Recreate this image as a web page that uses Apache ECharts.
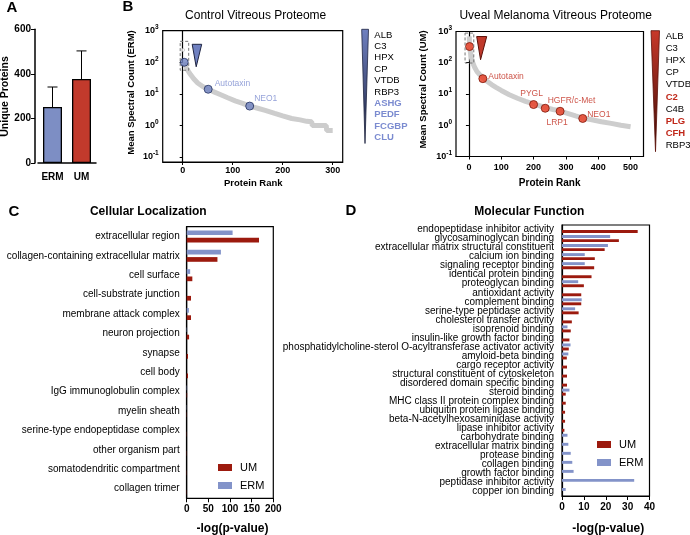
<!DOCTYPE html>
<html><head><meta charset="utf-8">
<script src="https://cdn.jsdelivr.net/npm/echarts@6/dist/echarts.min.js"></script>
<style>html,body{margin:0;padding:0;background:#fff}#c{width:690px;height:535px}</style>
</head><body><div id="c"></div>
<script>
// ---------- DATA ----------
const groupsA = ['ERM', 'UM'];
const meanA = [251, 377];
const errA = [90, 126];

const rankTicksCtrl = [0, 100, 200, 300];
const rankTicksUM = [0, 100, 200, 300, 400, 500];
const countTicks = [0.1, 1, 10, 100, 1000];

const ctrlCurve = [[3,100],[5,78],[8,63],[12,50],[16,40],[22,30],[30,22],[40,17],[51,14],[60,12],[75,9.5],[90,7.5],[105,6],[120,5],[134,4.1],[150,3.5],[165,3],[184,2.4],[200,2],[218,1.66],[235,1.5],[248,1.35],[258,1.3],[259,1.0],[287,1.0],[288,0.69],[300,0.69]];
const ctrlTop = [[1,245]];
const ctrlHiRank = [3, 51, 134];
const ctrlHiCount = [100, 14, 4.1];
const ctrlHiLabel = ['', 'Autotaxin', 'NEO1'];

const umCurve = [[1,700],[2,330],[5,200],[8,140],[12,100],[18,70],[25,52],[33,42],[43,34],[55,26],[70,20],[85,16],[100,13],[125,9.5],[150,7.3],[175,5.8],[200,4.8],[236,3.7],[260,3.2],[282,2.9],[300,2.5],[330,2.0],[352,1.7],[380,1.5],[410,1.3],[440,1.15],[470,1.0],[500,0.9]];
const umHiRank = [2, 43, 200, 236, 282, 352];
const umHiCount = [330, 31, 4.6, 3.5, 2.8, 1.65];
const umHiLabel = ['', 'Autotaxin', 'PYGL', 'HGFR/c-Met', 'LRP1', 'NEO1'];

const ctrlGenes = ['ALB','C3','HPX','CP','VTDB','RBP3','ASHG','PEDF','FCGBP','CLU'];
const ctrlGenesHi = ['ASHG','PEDF','FCGBP','CLU'];
const umGenes = ['ALB','C3','HPX','CP','VTDB','C2','C4B','PLG','CFH','RBP3'];
const umGenesHi = ['C2','PLG','CFH'];

const ccCategories = ['extracellular region','collagen-containing extracellular matrix','cell surface','cell-substrate junction','membrane attack complex','neuron projection','synapse','cell body','IgG immunoglobulin complex','myelin sheath','serine-type endopeptidase complex','other organism part','somatodendritic compartment','collagen trimer'];
const ccERM = [106, 79, 8, 0, 5, 1, 0, 0, 1, 0.5, 0, 0, 0, 0];
const ccUM  = [167, 71, 13, 10, 10, 5.5, 3, 3, 1, 0.5, 0.5, 0.5, 0.5, 0.5];

const mfCategories = ['endopeptidase inhibitor activity','glycosaminoglycan binding','extracellular matrix structural constituent','calcium ion binding','signaling receptor binding','identical protein binding','proteoglycan binding','antioxidant activity','complement binding','serine-type peptidase activity','cholesterol transfer activity','isoprenoid binding','insulin-like growth factor binding','phosphatidylcholine-sterol O-acyltransferase activator activity','amyloid-beta binding','cargo receptor activity','structural constituent of cytoskeleton','disordered domain specific binding','steroid binding','MHC class II protein complex binding','ubiquitin protein ligase binding','beta-N-acetylhexosaminidase activity','lipase inhibitor activity','carbohydrate binding','extracellular matrix binding','protease binding','collagen binding','growth factor binding','peptidase inhibitor activity','copper ion binding'];
const mfERM = [0, 22, 21, 10.4, 10.4, 0, 7.4, 0, 9, 6, 0, 2.5, 0, 3.9, 2.9, 0, 0, 0, 3.4, 0, 0, 0, 0, 2.5, 2.9, 4, 4.7, 5.3, 33, 1.7];
const mfUM  = [34.6, 26, 19.5, 15, 14.7, 13.5, 10, 8.8, 8.8, 7.6, 4.5, 4, 3.4, 3.1, 2.2, 2.3, 2.3, 2.3, 1.7, 1.7, 1.4, 1.4, 1.1, 0, 0, 0, 0, 0, 0, 0];

// ---------- STYLE ----------
const FONT = '"Liberation Sans", Arial, Helvetica, sans-serif';
const ERM_A = '#7d8ec4', UM_A = '#c23a2c';
const ERM_C = '#8393c9', UM_C = '#9c1a0e';
const BLUE_T = '#7b8bd0', RED_T = '#c0281a';
const BLACK = '#000';

const chart = echarts.init(document.getElementById('c'), null, {renderer: 'canvas'});

function supLabel(v) {
  const e = Math.round(Math.log10(v));
  return '{b|10}{s|' + e + '}';
}
const supRich = {
  b: {fontSize: 9, fontWeight: 'bold', color: BLACK, fontFamily: FONT},
  s: {fontSize: 6.5, fontWeight: 'bold', color: BLACK, fontFamily: FONT, padding: [0, 0, 7, 0]}
};

function hiData(ranks, counts, labels, cfg) {
  return ranks.map((r, i) => {
    const d = {value: [r, counts[i]]};
    if (labels[i]) d.label = Object.assign({show: true, formatter: labels[i]}, cfg[labels[i]]);
    return d;
  });
}

const ctrlLabelCfg = {
  'Autotaxin': {position: 'right', distance: 2, offset: [0, -6]},
  'NEO1': {position: 'right', distance: 0, offset: [0, -7]}
};
const umLabelCfg = {
  'Autotaxin': {position: 'right', distance: 1, offset: [0, -2]},
  'PYGL': {position: 'top', distance: 2, offset: [-2, 0]},
  'HGFR/c-Met': {position: 'right', distance: 0, offset: [-2, -8]},
  'LRP1': {position: 'bottom', distance: 2, offset: [-3, 0]},
  'NEO1': {position: 'right', distance: 0, offset: [0, -4]}
};

const valAxisLine = {show: true, lineStyle: {color: BLACK, width: 1.2}};
const valTick = {show: true, length: 4, lineStyle: {color: BLACK, width: 1}};

const option = {
  animation: false,
  textStyle: {fontFamily: FONT},
  grid: [
    {left: 38, top: 29.3, width: 58, height: 133.7},
    {left: 162.7, top: 30.7, width: 180, height: 131.3, show: true, borderColor: BLACK, borderWidth: 1.2},
    {left: 456, top: 31.5, width: 187.5, height: 125, show: true, borderColor: BLACK, borderWidth: 1.2},
    {left: 186.7, top: 226.7, width: 86.6, height: 271.6, show: true, borderColor: BLACK, borderWidth: 1.2},
    {left: 562, top: 225, width: 87.5, height: 271, show: true, borderColor: BLACK, borderWidth: 1.2}
  ],
  xAxis: [
    {gridIndex: 0, type: 'category', data: groupsA, axisLine: {lineStyle: {color: BLACK, width: 1.5}}, axisTick: {show: false},
     axisLabel: {color: BLACK, fontWeight: 'bold', fontSize: 10, margin: 9}},
    {gridIndex: 1, type: 'value', min: -40, max: 320, splitLine: {show: false}, axisLine: valAxisLine,
     axisTick: {show: true, length: 3, customValues: rankTicksCtrl, lineStyle: {color: BLACK}},
     axisLabel: {customValues: rankTicksCtrl, color: BLACK, fontWeight: 'bold', fontSize: 9, margin: 4}},
    {gridIndex: 2, type: 'value', min: -40, max: 540, splitLine: {show: false}, axisLine: valAxisLine,
     axisTick: {show: true, length: 3, customValues: rankTicksUM, lineStyle: {color: BLACK}},
     axisLabel: {customValues: rankTicksUM, color: BLACK, fontWeight: 'bold', fontSize: 9, margin: 7}},
    {gridIndex: 3, type: 'value', min: 0, max: 200, interval: 50, splitLine: {show: false}, axisLine: valAxisLine, axisTick: valTick,
     axisLabel: {color: BLACK, fontWeight: 'bold', fontSize: 10, margin: 6}},
    {gridIndex: 4, type: 'value', min: 0, max: 40, interval: 10, splitLine: {show: false}, axisLine: valAxisLine, axisTick: valTick,
     axisLabel: {color: BLACK, fontWeight: 'bold', fontSize: 10, margin: 6}}
  ],
  yAxis: [
    {gridIndex: 0, type: 'value', min: 0, max: 600, interval: 200, offset: 3, splitLine: {show: false},
     axisLine: {show: true, lineStyle: {color: BLACK, width: 1.5}}, axisTick: {show: true, length: 4, lineStyle: {color: BLACK}},
     axisLabel: {color: BLACK, fontWeight: 'bold', fontSize: 10, margin: 4}},
    {gridIndex: 1, type: 'log', logBase: 10, min: 0.0695, max: 1000, splitLine: {show: false}, axisLine: valAxisLine,
     axisTick: {show: true, length: 3, customValues: countTicks, lineStyle: {color: BLACK}},
     axisLabel: {customValues: countTicks, formatter: supLabel, rich: supRich, margin: 4}},
    {gridIndex: 2, type: 'log', logBase: 10, min: 0.1, max: 1000, splitLine: {show: false}, axisLine: valAxisLine,
     axisTick: {show: true, length: 3, customValues: countTicks, lineStyle: {color: BLACK}},
     axisLabel: {customValues: countTicks, formatter: supLabel, rich: supRich, margin: 4}},
    {gridIndex: 3, type: 'category', inverse: true, data: ccCategories, axisLine: {lineStyle: {color: BLACK, width: 1.2}},
     axisTick: {alignWithLabel: true, length: 4, lineStyle: {color: BLACK}},
     axisLabel: {color: BLACK, fontSize: 10, margin: 7, interval: 0}},
    {gridIndex: 4, type: 'category', inverse: true, data: mfCategories, axisLine: {lineStyle: {color: BLACK, width: 1.2}},
     axisTick: {alignWithLabel: true, length: 4, lineStyle: {color: BLACK}},
     axisLabel: {color: BLACK, fontSize: 10, margin: 8, interval: 0}}
  ],
  legend: [
    {left: 218, top: 462, padding: 0, orient: 'vertical', data: ['UM', 'ERM'], icon: 'rect', itemWidth: 14, itemHeight: 7, itemGap: 7,
     selectedMode: false, textStyle: {fontSize: 11, color: BLACK, padding: [0, 0, 0, 3]}},
    {left: 597, top: 439, padding: 0, orient: 'vertical', data: ['UM', 'ERM'], icon: 'rect', itemWidth: 14, itemHeight: 7, itemGap: 7,
     selectedMode: false, textStyle: {fontSize: 11, color: BLACK, padding: [0, 0, 0, 3]}}
  ],
  series: [
    // A
    {name: 'A-err', type: 'custom', xAxisIndex: 0, yAxisIndex: 0, z: 1,
     data: groupsA.map((g, i) => [i, meanA[i], meanA[i] + errA[i]]),
     renderItem: function (params, api) {
       const p0 = api.coord([api.value(0), api.value(1)]);
       const p1 = api.coord([api.value(0), api.value(2)]);
       return {type: 'group', children: [
         {type: 'line', shape: {x1: p0[0], y1: p0[1], x2: p1[0], y2: p1[1]}, style: {stroke: BLACK, lineWidth: 1}},
         {type: 'line', shape: {x1: p1[0] - 5, y1: p1[1], x2: p1[0] + 5, y2: p1[1]}, style: {stroke: BLACK, lineWidth: 1}}
       ]};
     }},
    {name: 'A-bars', type: 'bar', xAxisIndex: 0, yAxisIndex: 0, barWidth: 19, z: 3,
     itemStyle: {borderColor: BLACK, borderWidth: 1.3},
     data: meanA.map((v, i) => ({value: v, itemStyle: {color: i === 0 ? ERM_A : UM_A}}))},
    // B left
    {name: 'ctrl-curve', type: 'line', xAxisIndex: 1, yAxisIndex: 1, data: ctrlCurve, symbol: 'none', z: 2,
     lineStyle: {color: '#cdcdcd', width: 5}},
    {name: 'ctrl-top', type: 'scatter', xAxisIndex: 1, yAxisIndex: 1, data: ctrlTop, symbolSize: 3, z: 3,
     itemStyle: {color: '#fff', borderColor: '#bbb', borderWidth: 0.8}},
    {name: 'ctrl-hi', type: 'scatter', xAxisIndex: 1, yAxisIndex: 1, symbolSize: 8, z: 4,
     itemStyle: {color: '#7083c2', borderColor: '#1f2d5c', borderWidth: 1},
     label: {color: BLUE_T, fontSize: 8.5, fontFamily: FONT},
     data: hiData(ctrlHiRank, ctrlHiCount, ctrlHiLabel, ctrlLabelCfg)},
    // B right
    {name: 'um-curve', type: 'line', xAxisIndex: 2, yAxisIndex: 2, data: umCurve, symbol: 'none', z: 2,
     lineStyle: {color: '#cdcdcd', width: 5}},
    {name: 'um-hi', type: 'scatter', xAxisIndex: 2, yAxisIndex: 2, symbolSize: 8, z: 4,
     itemStyle: {color: '#ea3a1f', borderColor: '#7a1508', borderWidth: 1},
     label: {color: RED_T, fontSize: 8.5, fontFamily: FONT},
     data: hiData(umHiRank, umHiCount, umHiLabel, umLabelCfg)},
    // C
    {name: 'ERM', type: 'bar', xAxisIndex: 3, yAxisIndex: 3, data: ccERM, barWidth: 4.7, barGap: '55%', itemStyle: {color: ERM_C}},
    {name: 'UM', type: 'bar', xAxisIndex: 3, yAxisIndex: 3, data: ccUM, barWidth: 4.7, barGap: '55%', itemStyle: {color: UM_C}},
    // D
    {name: 'ERM', type: 'bar', xAxisIndex: 4, yAxisIndex: 4, data: mfERM, barWidth: 2.9, barGap: '40%', itemStyle: {color: ERM_C}},
    {name: 'UM', type: 'bar', xAxisIndex: 4, yAxisIndex: 4, data: mfUM, barWidth: 2.9, barGap: '40%', itemStyle: {color: UM_C}}
  ]
};
chart.setOption(option);

// ---------- ANNOTATIONS ----------
function txt(x, y, text, font, opts) {
  return Object.assign({type: 'text', x: x, y: y, silent: true,
    style: Object.assign({text: text, font: font, fill: BLACK, align: 'center', verticalAlign: 'middle'}, (opts && opts.style) || {})},
    opts && opts.rotation !== undefined ? {rotation: opts.rotation} : {});
}
const g = [];
const bold = (s) => 'bold ' + s + 'px ' + FONT;
const reg = (s) => s + 'px ' + FONT;
// panel letters
g.push(txt(12, 8, 'A', bold(15)));
g.push(txt(128, 7, 'B', bold(15)));
g.push(txt(14, 211.5, 'C', bold(15)));
g.push(txt(351, 211, 'D', bold(15)));
// titles
g.push(txt(255.7, 16, 'Control Vitreous Proteome', reg(12)));
g.push(txt(555.7, 16, 'Uveal Melanoma Vitreous Proteome', reg(12)));
g.push(txt(148.3, 211.7, 'Cellular Localization', bold(12)));
g.push(txt(529.3, 211.7, 'Molecular Function', bold(12)));
// axis names
g.push(txt(5.5, 96.5, 'Unique Proteins', bold(10.5), {rotation: Math.PI / 2}));
g.push(txt(131.7, 92.5, 'Mean Spectral Count (ERM)', bold(9.5), {rotation: Math.PI / 2}));
g.push(txt(423.3, 89.5, 'Mean Spectral Count (UM)', bold(9.5), {rotation: Math.PI / 2}));
g.push(txt(253.3, 183.3, 'Protein Rank', bold(9.5)));
g.push(txt(549.7, 183.3, 'Protein Rank', bold(10)));
g.push(txt(232.5, 528.3, '-log(p-value)', bold(12)));
g.push(txt(608.2, 528.3, '-log(p-value)', bold(12)));

// dashed boxes and small triangles via data coordinates
function px(gi, pt) { return chart.convertToPixel({gridIndex: gi}, pt); }
function dashBox(gi, r0, r1, c0, c1) {
  const a = px(gi, [r0, c1]), b = px(gi, [r1, c0]);
  g.push({type: 'rect', silent: true, z: 10, shape: {x: a[0], y: a[1], width: b[0] - a[0], height: b[1] - a[1]},
    style: {fill: 'none', stroke: '#777', lineWidth: 1, lineDash: [3, 2]}});
}
function triangle(gi, r0, r1, rApex, cTop, cApex, fill, stroke) {
  const a = px(gi, [r0, cTop]), b = px(gi, [r1, cTop]), c = px(gi, [rApex, cApex]);
  g.push({type: 'polygon', silent: true, z: 10, shape: {points: [a, b, c]},
    style: {fill: fill, stroke: stroke, lineWidth: 1}});
}
dashBox(1, -5, 12, 56, 460);
dashBox(2, -12, 15, 98, 890);
triangle(1, 19, 38, 27, 371, 72, '#6f80c0', '#1d2340');
triangle(2, 24, 55, 36, 690, 125, '#c0392b', '#5a0f08');

// gene list wedges
function grad(c1, c2) {
  return new echarts.graphic.LinearGradient(0, 0, 0, 1, [{offset: 0, color: c1}, {offset: 1, color: c2}]);
}
g.push({type: 'polygon', silent: true, shape: {points: [[361.7, 29.3], [368.5, 29.3], [365, 143.5]]},
  style: {fill: grad('#6f80c0', '#1d2340'), stroke: '#1d2340', lineWidth: 0.8}});
g.push({type: 'polygon', silent: true, shape: {points: [[651, 30.7], [659.5, 30.7], [655.5, 151.7]]},
  style: {fill: grad('#c8392a', '#3a0a05'), stroke: '#5a0f08', lineWidth: 0.8}});
ctrlGenes.forEach((name, i) => {
  const hi = ctrlGenesHi.indexOf(name) >= 0;
  g.push(txt(374.3, 35 + i * 11.4, name, (hi ? 'bold ' : '') + '9.5px ' + FONT,
    {style: {align: 'left', fill: hi ? BLUE_T : BLACK}}));
});
umGenes.forEach((name, i) => {
  const hi = umGenesHi.indexOf(name) >= 0;
  g.push(txt(665.7, 36 + i * 12.2, name, (hi ? 'bold ' : '') + '9.5px ' + FONT,
    {style: {align: 'left', fill: hi ? RED_T : BLACK}}));
});

chart.setOption({graphic: g});
</script></body></html>
